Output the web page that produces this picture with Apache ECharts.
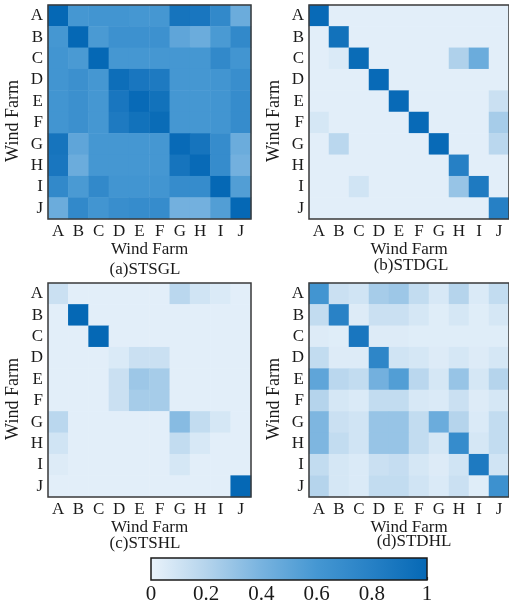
<!DOCTYPE html>
<html>
<head>
<meta charset="utf-8">
<script src="https://cdn.jsdelivr.net/npm/echarts@6/dist/echarts.min.js"></script>
<style>
  html, body { margin: 0; padding: 0; background: #fff; }
  #chart { width: 509px; height: 610px; }
</style>
</head>
<body>
<div id="chart"></div>
<script>
// Wind farm labels shared by every matrix
const farms = ['A', 'B', 'C', 'D', 'E', 'F', 'G', 'H', 'I', 'J'];

// Colour bar tick values
const barTicks = [0, 0.2, 0.4, 0.6, 0.8, 1];

// Panel captions
const captions = ['(a)STSGL', '(b)STDGL', '(c)STSHL', '(d)STDHL'];

// Correlation matrices, one row per wind farm (A..J)
const stsgl = [
  [1.00, 0.60, 0.62, 0.62, 0.60, 0.60, 0.90, 0.88, 0.72, 0.45],
  [0.60, 1.00, 0.58, 0.65, 0.65, 0.65, 0.50, 0.45, 0.58, 0.72],
  [0.62, 0.58, 1.00, 0.60, 0.60, 0.60, 0.60, 0.60, 0.72, 0.62],
  [0.62, 0.66, 0.60, 0.95, 0.88, 0.85, 0.60, 0.60, 0.62, 0.68],
  [0.62, 0.66, 0.60, 0.88, 0.98, 0.92, 0.60, 0.60, 0.62, 0.70],
  [0.62, 0.66, 0.60, 0.85, 0.92, 0.97, 0.60, 0.60, 0.62, 0.70],
  [0.90, 0.50, 0.60, 0.60, 0.60, 0.60, 0.98, 0.90, 0.70, 0.45],
  [0.88, 0.45, 0.60, 0.60, 0.60, 0.60, 0.90, 0.98, 0.70, 0.42],
  [0.72, 0.58, 0.72, 0.62, 0.62, 0.62, 0.70, 0.70, 1.00, 0.55],
  [0.45, 0.72, 0.62, 0.68, 0.70, 0.70, 0.42, 0.42, 0.55, 1.00]
];

const stdgl = [
  [0.98, 0.03, 0.03, 0.03, 0.03, 0.03, 0.03, 0.03, 0.03, 0.03],
  [0.03, 0.92, 0.03, 0.03, 0.03, 0.03, 0.03, 0.03, 0.03, 0.03],
  [0.03, 0.06, 0.97, 0.03, 0.03, 0.03, 0.03, 0.22, 0.45, 0.03],
  [0.03, 0.03, 0.03, 0.98, 0.03, 0.03, 0.03, 0.03, 0.03, 0.03],
  [0.03, 0.03, 0.03, 0.03, 0.98, 0.03, 0.03, 0.03, 0.03, 0.12],
  [0.08, 0.03, 0.03, 0.03, 0.03, 0.98, 0.03, 0.03, 0.03, 0.25],
  [0.03, 0.18, 0.03, 0.03, 0.03, 0.03, 0.98, 0.03, 0.03, 0.18],
  [0.03, 0.03, 0.03, 0.03, 0.03, 0.03, 0.03, 0.80, 0.03, 0.03],
  [0.03, 0.03, 0.10, 0.03, 0.03, 0.03, 0.03, 0.30, 0.85, 0.03],
  [0.03, 0.03, 0.03, 0.03, 0.03, 0.03, 0.03, 0.03, 0.03, 0.80]
];

const stshl = [
  [0.12, 0.03, 0.03, 0.03, 0.03, 0.03, 0.18, 0.10, 0.06, 0.03],
  [0.03, 1.00, 0.03, 0.03, 0.03, 0.03, 0.03, 0.03, 0.03, 0.03],
  [0.03, 0.03, 1.00, 0.03, 0.03, 0.03, 0.03, 0.03, 0.03, 0.03],
  [0.03, 0.03, 0.03, 0.06, 0.12, 0.12, 0.03, 0.03, 0.03, 0.03],
  [0.03, 0.03, 0.03, 0.12, 0.28, 0.25, 0.03, 0.03, 0.03, 0.03],
  [0.03, 0.03, 0.03, 0.12, 0.25, 0.25, 0.03, 0.03, 0.03, 0.03],
  [0.18, 0.03, 0.03, 0.03, 0.03, 0.03, 0.35, 0.15, 0.08, 0.03],
  [0.10, 0.03, 0.03, 0.03, 0.03, 0.03, 0.15, 0.07, 0.03, 0.03],
  [0.05, 0.03, 0.03, 0.03, 0.03, 0.03, 0.08, 0.03, 0.03, 0.03],
  [0.03, 0.03, 0.03, 0.03, 0.03, 0.03, 0.03, 0.03, 0.03, 1.00]
];

const stdhl = [
  [0.62, 0.12, 0.10, 0.25, 0.28, 0.15, 0.07, 0.20, 0.06, 0.15],
  [0.15, 0.78, 0.05, 0.12, 0.12, 0.08, 0.04, 0.08, 0.04, 0.08],
  [0.05, 0.04, 0.88, 0.05, 0.05, 0.04, 0.04, 0.04, 0.04, 0.04],
  [0.15, 0.05, 0.05, 0.75, 0.10, 0.08, 0.05, 0.08, 0.05, 0.08],
  [0.50, 0.18, 0.15, 0.42, 0.55, 0.18, 0.08, 0.30, 0.08, 0.20],
  [0.20, 0.08, 0.06, 0.15, 0.15, 0.07, 0.06, 0.12, 0.05, 0.08],
  [0.38, 0.12, 0.10, 0.30, 0.30, 0.15, 0.45, 0.20, 0.06, 0.15],
  [0.38, 0.15, 0.10, 0.30, 0.30, 0.15, 0.08, 0.70, 0.08, 0.15],
  [0.15, 0.08, 0.06, 0.12, 0.14, 0.08, 0.05, 0.10, 0.85, 0.10],
  [0.20, 0.08, 0.06, 0.15, 0.15, 0.10, 0.06, 0.12, 0.04, 0.65]
];

const matrices = [stsgl, stdgl, stshl, stdhl];

// Blue colour ramp used by all panels and the colour bar
const ramp = ['#eaf3fb', '#b5d4ec', '#78b3df', '#4597d2', '#2680c5', '#0568b5'];

const serif = '"Liberation Serif", "DejaVu Serif", serif';
const ink = '#1a1a1a';

// Panel placement: [left, top]
const panelPos = [[48, 5], [309, 5], [48, 283], [309, 283]];
const panelW = 203, panelH = 214;

function toCells(m) {
  const out = [];
  m.forEach((row, r) => row.forEach((v, c) => out.push([c, r, v])));
  return out;
}

const grids = [], xAxes = [], yAxes = [], series = [];

panelPos.forEach((p, i) => {
  grids.push({
    left: p[0], top: p[1], width: panelW, height: panelH,
    show: true, z: 10, backgroundColor: 'transparent',
    borderColor: '#3a3a3a', borderWidth: 1.5
  });
  xAxes.push({
    gridIndex: i, type: 'category', data: farms,
    axisLine: { show: false }, axisTick: { show: false }, splitLine: { show: false },
    axisLabel: { interval: 0, margin: 4, fontSize: 17, fontFamily: serif, color: ink },
    name: 'Wind Farm', nameLocation: 'middle', nameGap: 16,
    nameTextStyle: { fontSize: 17, fontFamily: serif, color: ink }
  });
  yAxes.push({
    gridIndex: i, type: 'category', data: farms, inverse: true,
    axisLine: { show: false }, axisTick: { show: false }, splitLine: { show: false },
    axisLabel: { interval: 0, margin: 5, fontSize: 17, fontFamily: serif, color: ink },
    name: 'Wind Farm', nameLocation: 'middle', nameGap: 26,
    nameTextStyle: { fontSize: 18, fontFamily: serif, color: ink, padding: [0, 18, 0, 0] }
  });
  series.push({
    type: 'heatmap', xAxisIndex: i, yAxisIndex: i,
    data: toCells(matrices[i]),
    itemStyle: { borderWidth: 0 },
    emphasis: { disabled: true }
  });
});

// Colour bar: a grid whose background carries the ramp, with a value axis below it
grids.push({
  left: 151, top: 558, width: 276, height: 22,
  show: true, z: 10,
  backgroundColor: {
    type: 'linear', x: 0, y: 0, x2: 1, y2: 0,
    colorStops: ramp.map((c, k) => ({ offset: k / (ramp.length - 1), color: c }))
  },
  borderColor: '#1a1a1a', borderWidth: 1.5
});
xAxes.push({
  gridIndex: 4, type: 'value', min: barTicks[0], max: barTicks[barTicks.length - 1],
  interval: barTicks[1] - barTicks[0],
  axisLine: { show: false }, splitLine: { show: false },
  axisTick: { show: true, inside: true, length: 3, lineStyle: { color: '#333', width: 1.2 } },
  axisLabel: {
    margin: 4, fontSize: 21, fontFamily: serif, color: ink,
    formatter: v => (barTicks.includes(+v.toFixed(1)) ? String(+v.toFixed(1)) : '')
  }
});
yAxes.push({ gridIndex: 4, type: 'value', show: false, min: 0, max: 1 });

const captionPos = [[145, 270], [411, 266], [145, 544], [414, 542]];

const chart = echarts.init(document.getElementById('chart'), null, { renderer: 'canvas' });
chart.setOption({
  animation: false,
  backgroundColor: '#fff',
  grid: grids,
  xAxis: xAxes,
  yAxis: yAxes,
  visualMap: {
    type: 'continuous', show: false, min: 0, max: 1,
    seriesIndex: [0, 1, 2, 3],
    inRange: { color: ramp }
  },
  series: series,
  graphic: captions.map((t, i) => ({
    type: 'text', x: captionPos[i][0], y: captionPos[i][1], silent: true,
    style: {
      text: t, fill: ink, font: '17px ' + serif,
      textAlign: 'center', textVerticalAlign: 'middle'
    }
  }))
});
</script>
</body>
</html>
